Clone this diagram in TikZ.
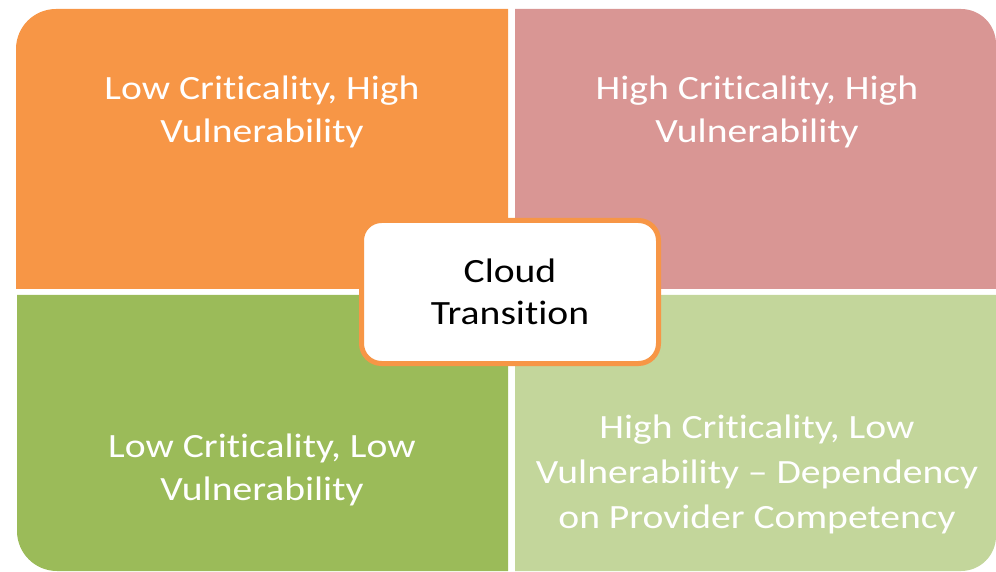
\documentclass[tikz,border=0pt]{standalone}
\usepackage{fontspec}
\setmainfont[FakeStretch=1.165,Ligatures=NoCommon]{Carlito}
\definecolor{qorange}{HTML}{F79646}
\definecolor{qpink}{HTML}{D99694}
\definecolor{qgreen}{HTML}{9BBB59}
\definecolor{qlight}{HTML}{C3D69B}
\tikzset{quadtext/.style={text=white,align=center,font=\fontsize{34}{43}\selectfont},
  hub/.style={fill=white,draw=qorange,line width=5pt,rounded corners=20pt,minimum width=297pt,minimum height=143pt,align=center,font=\fontsize{34}{42}\selectfont}}
\begin{document}
\begin{tikzpicture}[x=1pt,y=1pt]
\useasboundingbox (0,0) rectangle (996,571);
\fill[qorange] (16,282) -- (16,522) arc[start angle=180,end angle=90,radius=40] -- (508,562) -- (508,282) -- cycle;
\fill[qpink] (515,282) -- (515,562) -- (961,562) arc[start angle=90,end angle=0,radius=35] -- (996,282) -- cycle;
\fill[qgreen] (17,276) -- (17,40) arc[start angle=180,end angle=270,radius=40] -- (508,0) -- (508,276) -- cycle;
\fill[qlight] (515,276) -- (996,276) -- (996,35) arc[start angle=0,end angle=-90,radius=35] -- (515,0) -- cycle;
\node[quadtext] (lowhigh) at (262,459) {Low Criticality, High\\Vulnerability};
\node[quadtext] (highhigh) at (757,459) {High Criticality, High\\Vulnerability};
\node[quadtext] (lowlow) at (262,101) {Low Criticality, Low\\Vulnerability};
\node[quadtext,font=\fontsize{34}{45}\selectfont] (highlow) at (757,97) {High Criticality, Low\\Vulnerability -- Dependency\\on Provider Competency};
\node[hub] (cloud) at (510,279) {Cloud\\Transition};
\end{tikzpicture}
\end{document}
